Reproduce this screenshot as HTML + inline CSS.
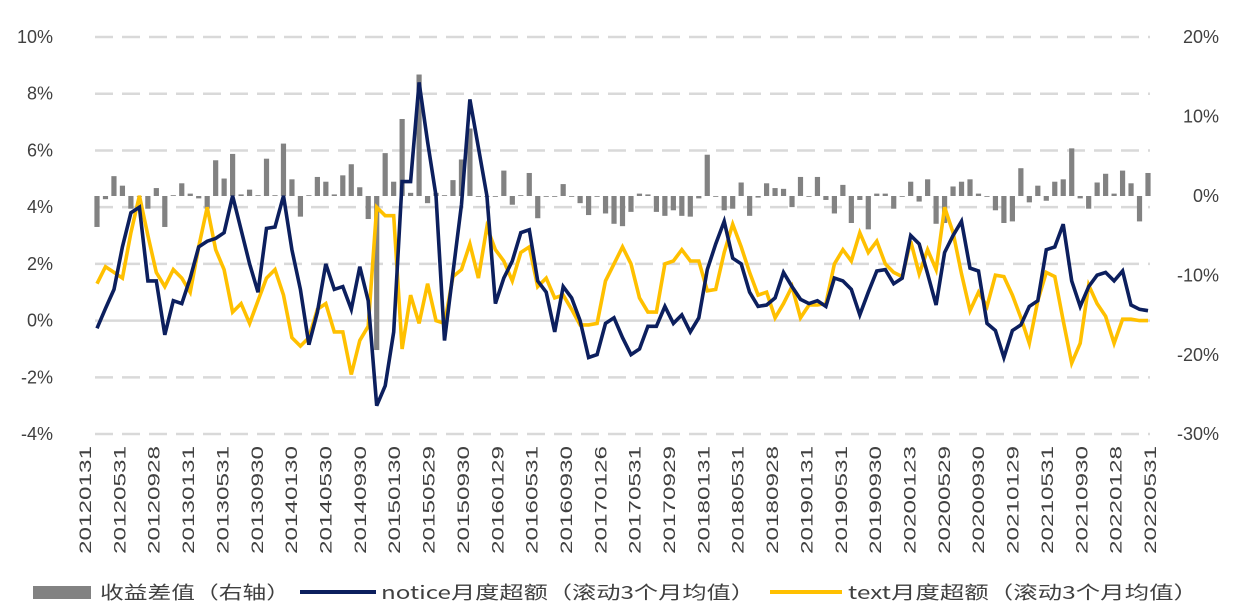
<!DOCTYPE html>
<html><head><meta charset="utf-8">
<style>
body{margin:0;background:#fff;}
svg{display:block;font-family:"Liberation Sans","Noto Sans CJK SC",sans-serif;}
</style></head>
<body>
<svg id="chart" width="1236" height="615"></svg>
<script>
const notice = [-0.27,0.43,1.1,2.6,3.8,4.0,1.4,1.4,-0.5,0.7,0.6,1.5,2.6,2.8,2.9,3.1,4.4,3.2,2.0,1.0,3.25,3.3,4.4,2.5,1.1,-0.85,0.3,2.0,1.1,1.2,0.4,1.9,0.7,-3.0,-2.3,-0.4,4.9,4.9,8.4,6.3,4.4,-0.7,
1.7,4.1,7.8,6.1,4.4,0.6,1.5,2.1,3.1,3.2,1.4,1.0,-0.4,1.2,0.8,0,-1.3,-1.2,-0.1,0.1,-0.6,-1.2,-1.0,-0.2,-0.2,0.5,-0.1,0.2,-0.4,0.1,1.8,2.7,3.5,2.2,2.0,1.0,0.5,0.55,0.8,1.7,1.2,0.75,0.6,
0.7,0.5,1.5,1.4,1.1,0.2,1.0,1.75,1.8,1.3,1.5,3.0,2.7,1.65,0.55,2.4,3.0,3.5,1.85,1.75,-0.1,-0.35,-1.3,-0.35,-0.15,0.5,0.7,2.5,2.6,3.4,1.4,0.5,1.2,1.6,1.7,1.4,1.75,0.55,0.4,0.35];
const text = [1.3,1.9,1.7,1.5,3.1,4.4,3.0,1.7,1.2,1.8,1.5,1.0,2.6,4.0,2.5,1.8,0.3,0.6,-0.1,0.7,1.5,1.8,0.9,-0.6,-0.9,-0.6,0.4,0.6,-0.4,-0.4,-1.9,-0.7,-0.2,4.0,3.7,3.7,-1.0,0.9,-0.1,1.3,0,-0.1,
1.55,1.8,2.7,1.5,3.3,2.5,2.1,1.4,2.4,2.6,1.2,1.5,0.8,0.9,0.4,-0.15,-0.15,-0.1,1.4,2.0,2.6,2.0,0.8,0.3,0.3,2.0,2.1,2.5,2.1,2.1,1.05,1.1,2.4,3.4,2.6,1.7,0.9,1.0,0.1,0.6,1.2,0.1,0.55,
0.55,0.6,2.0,2.5,2.1,3.1,2.4,2.8,2.0,1.7,1.55,2.8,1.65,2.5,1.8,4.0,3.1,1.65,0.35,1.0,0.5,1.6,1.55,0.9,0.1,-0.8,0.7,1.7,1.55,0,-1.5,-0.8,1.25,0.6,0.15,-0.8,0.05,0.05,0,0];
const spread = [-3.9,-0.4,2.5,1.3,-1.6,0,-1.6,1.0,-3.9,0.1,1.6,0.3,-0.3,-1.6,4.5,2.2,5.3,0.2,0.8,0.1,4.7,0.1,6.6,2.1,-2.6,0.1,2.4,1.8,0.2,2.6,4.0,1.1,-2.9,-19.4,5.4,1.8,9.7,0.4,15.3,-0.9,0.4,0.1,2.0,
4.6,8.5,0,0,0,3.2,-1.1,0.1,2.9,-2.8,-0.1,0,1.5,0,-0.9,-2.4,0,-2.2,-3.5,-3.8,-2.0,0.3,0.2,-2.0,-2.5,-1.8,-2.5,-2.6,-0.3,5.2,0,-1.8,-1.6,1.7,-2.5,-0.2,1.6,1.0,0.9,-1.4,2.4,0,
2.4,-0.5,-2.2,1.4,-3.4,-0.5,-4.2,0.3,0.3,-1.6,0,1.8,-0.7,2.1,-3.5,-3.4,1.2,1.8,2.1,0.3,-0.1,-1.8,-3.4,-3.2,3.5,-0.8,1.3,-0.6,1.8,2.1,6.0,-0.3,-1.6,1.7,2.8,0.3,3.2,1.6,-3.2,2.9];
const xLabels = ["20120131","20120531","20120928","20130131","20130531","20130930","20140130","20140530","20140930","20150130","20150529","20150930","20160129","20160531","20160930","20170126","20170531","20170929","20180131","20180531","20180928","20190131","20190531","20190930","20200123","20200529","20200930","20210129","20210531","20210930","20220128","20220531"];
const leftTicks = [10,8,6,4,2,0,-2,-4];
const rightTicks = [20,10,0,-10,-20,-30];

const NS="http://www.w3.org/2000/svg";
const svg=document.getElementById('chart');
function mk(tag,attrs,parent){const e=document.createElementNS(NS,tag);for(const k in attrs)e.setAttribute(k,attrs[k]);(parent||svg).appendChild(e);return e;}
const yL=v=>320.6-(v)*28.36;
const yR=v=>196-(v)*7.94;
const n=notice.length;
const xP=i=>97+(1148-97)*i/(n-1);

leftTicks.forEach(t=>{
  const g=mk('line',{x1:95,x2:1150,y1:yL(t),y2:yL(t),stroke:'#d9d9d9','stroke-width':2.5,'stroke-dasharray':t===0?'none':'18,9'});
  
  
  const l=mk('text',{x:53,y:yL(t)+6,'text-anchor':'end','font-size':18,fill:'#404040'});
  l.textContent=t+'%';
  
  
});
rightTicks.forEach(t=>{
  const l=mk('text',{x:1219,y:yR(t)+6,'text-anchor':'end','font-size':18,fill:'#404040'});
  l.textContent=t+'%';
  
  
});
spread.forEach((v,i)=>{
  const y0=yR(0),y1=yR(v);
  const b=mk('rect',{x:xP(i)-2.6,y:Math.min(y0,y1),width:5.2,height:Math.max(0.8,Math.abs(y1-y0)),fill:'#828282'});
  
  
});
function line(arr,color,name){
  const p=mk('polyline',{points:arr.map((v,i)=>xP(i).toFixed(1)+','+yL(v).toFixed(1)).join(' '),fill:'none',stroke:color,'stroke-width':3.6,'stroke-linejoin':'miter'});
  
  
}
line(text,'#ffc000','text-line');
line(notice,'#0c1f5e','notice-line');
xLabels.forEach((s,k)=>{
  const x=85+(1150-85)*k/(xLabels.length-1);
  const t=mk('text',{x:0,y:0,transform:`translate(${x+6},446) rotate(-90)`,'text-anchor':'end','font-size':17,fill:'#404040',textLength:108,lengthAdjust:'spacingAndGlyphs'});
  t.textContent=s;
  
  
});
const lg=mk('g',{'font-family':'"Noto Sans CJK SC",sans-serif'});


const r=mk('rect',{x:33,y:586,width:58,height:13,fill:'#828282'},lg);


const t1=mk('text',{x:100,y:599,'font-size':18,fill:'#404040',textLength:190,lengthAdjust:'spacingAndGlyphs'},lg);
t1.textContent='收益差值（右轴）';


const l1=mk('line',{x1:300,x2:376,y1:592,y2:592,stroke:'#0c1f5e','stroke-width':4},lg);


const t2=mk('text',{x:381,y:599,'font-size':18,fill:'#404040',textLength:374,lengthAdjust:'spacingAndGlyphs'},lg);
t2.textContent='notice月度超额（滚动3个月均值）';


const l2=mk('line',{x1:770,x2:842,y1:592,y2:592,stroke:'#ffc000','stroke-width':4},lg);


const t3=mk('text',{x:848,y:599,'font-size':18,fill:'#404040',textLength:350,lengthAdjust:'spacingAndGlyphs'},lg);
t3.textContent='text月度超额（滚动3个月均值）';


</script>
</body></html>
